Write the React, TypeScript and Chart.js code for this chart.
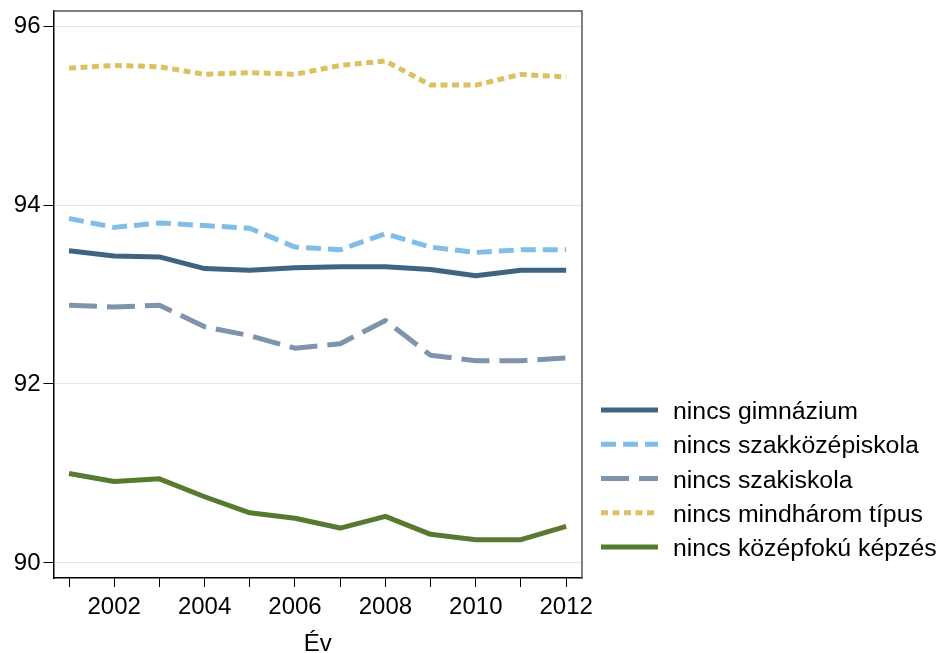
import React, { useEffect, useRef } from "react";
import { Chart, registerables } from "chart.js";

Chart.register(...registerables);

const years = [2001, 2002, 2003, 2004, 2005, 2006, 2007, 2008, 2009, 2010, 2011, 2012];
const yTicks = [90, 92, 94, 96];
const seriesNames = [
  "nincs gimnázium",
  "nincs szakközépiskola",
  "nincs szakiskola",
  "nincs mindhárom típus",
  "nincs középfokú képzés",
];
const gimnazium = [93.49, 93.43, 93.42, 93.29, 93.27, 93.3, 93.31, 93.31, 93.28, 93.21, 93.27, 93.27];
const szakkozep = [93.85, 93.75, 93.8, 93.77, 93.74, 93.53, 93.5, 93.68, 93.53, 93.47, 93.5, 93.5];
const szakiskola = [92.88, 92.86, 92.88, 92.64, 92.54, 92.4, 92.45, 92.71, 92.32, 92.26, 92.26, 92.29];
const mindharom = [95.53, 95.56, 95.545, 95.46, 95.48, 95.46, 95.56, 95.61, 95.34, 95.34, 95.46, 95.43];
const kozepfoku = [91.0, 90.91, 90.94, 90.74, 90.56, 90.5, 90.39, 90.52, 90.32, 90.26, 90.26, 90.41];

const seriesValues = [gimnazium, szakkozep, szakiskola, mindharom, kozepfoku];
const colors = ["#3e6482", "#82bde8", "#7f94ac", "#dcc062", "#577a30"];
const dashes: number[][] = [[], [15, 7], [28, 10], [7, 4.5], []];

const FONT = "'Liberation Sans', Arial, sans-serif";
const FS = 24;
const LEG_FS = 23;
const LEG_STRETCH = 1.08;

const framePlugin = {
  id: "frameAndLegend",
  afterDraw(chart: any) {
    const { ctx, chartArea } = chart;
    ctx.save();
    ctx.strokeStyle = "#555555";
    ctx.lineWidth = 1.5;
    ctx.setLineDash([]);
    ctx.beginPath();
    ctx.moveTo(chartArea.left, chartArea.top);
    ctx.lineTo(chartArea.right, chartArea.top);
    ctx.lineTo(chartArea.right, chartArea.bottom);
    ctx.stroke();
    const x0 = chartArea.right + 19;
    const x1 = x0 + 57;
    const tx = x1 + 15;
    const y0 = 410;
    const dy = 34.25;
    chart.data.datasets.forEach((ds: any, i: number) => {
      const y = y0 + i * dy;
      ctx.strokeStyle = ds.borderColor;
      ctx.lineWidth = ds.borderWidth;
      ctx.lineCap = "butt";
      ctx.setLineDash(ds.borderDash || []);
      ctx.beginPath();
      ctx.moveTo(x0, y);
      ctx.lineTo(x1, y);
      ctx.stroke();
      ctx.setLineDash([]);
      ctx.save();
      ctx.translate(tx, y + 9);
      ctx.scale(LEG_STRETCH, 1);
      ctx.fillStyle = "#000";
      ctx.font = `${LEG_FS}px ${FONT}`;
      ctx.textAlign = "left";
      ctx.textBaseline = "alphabetic";
      ctx.fillText(ds.label, 0, 0);
      ctx.restore();
    });
    ctx.restore();
  },
};

export default function App() {
  const ref = useRef<HTMLCanvasElement | null>(null);
  useEffect(() => {
    document.body.style.margin = "0";
    const canvas = ref.current;
    if (!canvas) return;
    const chart = new Chart(canvas, {
      type: "line",
      data: {
        datasets: seriesNames.map((name, i) => ({
          label: name,
          data: years.map((yr, j) => ({ x: yr, y: seriesValues[i][j] })),
          borderColor: colors[i],
          backgroundColor: colors[i],
          borderWidth: 5,
          borderDash: dashes[i],
          borderCapStyle: "butt",
          borderJoinStyle: "round",
          pointRadius: 0,
          pointHoverRadius: 0,
          tension: 0,
          fill: false,
        })),
      },
      options: {
        animation: false,
        responsive: false,
        devicePixelRatio: 1,
        layout: { padding: { top: 11, right: 359, left: 0, bottom: 0 } },
        plugins: {
          legend: { display: false },
          tooltip: { enabled: false },
        },
        scales: {
          x: {
            type: "linear",
            min: 2000.657,
            max: 2012.35,
            afterFit: (s: any) => {
              s.height = 75;
              s.paddingLeft = 0;
              s.paddingRight = 0;
            },
            ticks: {
              stepSize: 1,
              includeBounds: false,
              autoSkip: false,
              maxRotation: 0,
              color: "#000",
              padding: 6,
              font: { family: FONT, size: FS },
              callback: (v: any) => (Number(v) % 2 === 0 ? String(v) : ""),
            },
            grid: {
              drawOnChartArea: false,
              tickColor: "#000",
              tickLength: 9,
              lineWidth: 1,
            },
            border: { display: true, color: "#000", width: 1.5 },
            title: {
              display: true,
              text: "Év",
              color: "#000",
              font: { family: FONT, size: FS },
              padding: { top: 0, bottom: -6 },
            },
          },
          y: {
            type: "linear",
            min: 89.832,
            max: 96.168,
            afterFit: (s: any) => {
              s.width = 53.5;
              s.paddingTop = 0;
              s.paddingBottom = 0;
            },
            afterBuildTicks: (s: any) => {
              s.ticks = yTicks.map((v) => ({ value: v }));
            },
            ticks: {
              color: "#000",
              padding: 3,
              font: { family: FONT, size: FS },
              callback: (v: any) => String(v),
            },
            grid: {
              color: "#e3e3e3",
              lineWidth: 1,
              tickColor: "#000",
              tickLength: 10,
            },
            border: { display: true, color: "#000", width: 1.5 },
          },
        },
      },
      plugins: [framePlugin],
    } as any);
    return () => chart.destroy();
  }, []);
  return (
    <div style={{ width: 941, height: 653, position: "relative", background: "#fff" }}>
      <canvas ref={ref} width={941} height={653} />
    </div>
  );
}
